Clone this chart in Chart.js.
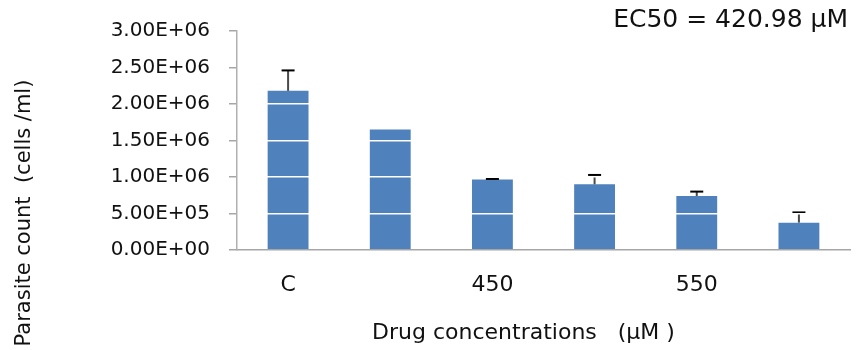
<!DOCTYPE html>
<html>
<head>
<meta charset="utf-8">
<script src="https://cdn.jsdelivr.net/npm/chart.js@4.4.1/dist/chart.umd.min.js"></script>
<style>
  html, body { margin: 0; padding: 0; background: #fff; }
  #wrap { width: 856px; height: 350px; position: relative; }
</style>
</head>
<body>
<div id="wrap"><canvas id="parasiteChart"></canvas></div>
<script>
// --- Data ---
const concLabels = ["C", "", "450", "", "550", ""];
const meanCount  = [2180000, 1650000, 965000, 900000, 740000, 375000];
const errUpper   = [280000, 0, 8000, 128000, 60000, 140000];
const yTicks     = [0, 500000, 1000000, 1500000, 2000000, 2500000, 3000000];

const annotationText = "EC50 = 420.98 \u00b5M";
const xTitle = "Drug concentrations   (\u00b5M )";
const yTitle = "Parasite count  (cells /ml)";

const FONT = "'DejaVu Sans', sans-serif";

// 3.00E+06 style labels
function sci(v) {
  const [m, e] = v.toExponential(2).toUpperCase().split("E");
  const sign = e[0] === "-" ? "-" : "+";
  const digits = e.replace(/[+-]/, "").padStart(2, "0");
  return m + "E" + sign + digits;
}

// --- error bars (upper only) ---
const errorBars = {
  id: "errorBars",
  afterDatasetsDraw(chart) {
    const ctx = chart.ctx;
    const meta = chart.getDatasetMeta(0);
    const y = chart.scales.y;
    ctx.save();
    meta.data.forEach((bar, i) => {
      if (!errUpper[i]) return;
      const top = y.getPixelForValue(meanCount[i] + errUpper[i]);
      const base = y.getPixelForValue(meanCount[i]);
      ctx.strokeStyle = "#4a4a4a";
      ctx.lineWidth = 2;
      ctx.beginPath();
      ctx.moveTo(bar.x, base);
      ctx.lineTo(bar.x, top);
      ctx.stroke();
      ctx.strokeStyle = "#000";
      ctx.beginPath();
      ctx.moveTo(bar.x - 6.5, top);
      ctx.lineTo(bar.x + 6.5, top);
      ctx.stroke();
    });
    ctx.restore();
  }
};

// --- titles and the EC50 note ---
const labelsLayer = {
  id: "labelsLayer",
  afterDraw(chart) {
    const ctx = chart.ctx;
    const a = chart.chartArea;
    ctx.save();
    ctx.fillStyle = "#111";

    ctx.font = "25px " + FONT;
    ctx.textAlign = "right";
    ctx.textBaseline = "alphabetic";
    ctx.fillText(annotationText, chart.width - 8, 27);

    ctx.font = "22px " + FONT;
    ctx.textAlign = "center";
    ctx.textBaseline = "middle";
    ctx.fillText(xTitle, (a.left + a.right) / 2 - 20, 333);

    ctx.font = "21px " + FONT;
    ctx.translate(25, a.bottom - 37);
    ctx.rotate(-Math.PI / 2);
    ctx.fillText(yTitle, 0, 0);
    ctx.restore();
  }
};

new Chart(document.getElementById("parasiteChart"), {
  type: "bar",
  data: {
    labels: concLabels,
    datasets: [{
      data: meanCount,
      backgroundColor: "#4f81bd",
      borderWidth: 0,
      barPercentage: 0.4,
      categoryPercentage: 1.0
    }]
  },
  options: {
    responsive: true,
    maintainAspectRatio: false,
    animation: false,
    layout: { padding: { left: 0, right: 6, top: 23, bottom: 0 } },
    plugins: { legend: { display: false }, tooltip: { enabled: false } },
    scales: {
      x: {
        afterFit: (s) => { s.height = 100; },
        grid: { display: false, drawTicks: false },
        border: { display: true, color: "#a6a6a6", width: 1.5, z: 2 },
        ticks: {
          color: "#111",
          font: { family: FONT, size: 22 },
          padding: 22,
          autoSkip: false,
          maxRotation: 0
        }
      },
      y: {
        min: 0,
        max: 3000000,
        afterFit: (s) => { s.width = 237; },
        afterBuildTicks: (s) => { s.ticks = yTicks.map(v => ({ value: v })); },
        grid: {
          z: 1,
          color: (c) => (c.tick && c.tick.value === 0 ? "rgba(0,0,0,0)" : "#ffffff"),
          lineWidth: 1.5,
          tickColor: "#a6a6a6",
          tickLength: 8
        },
        border: { display: true, color: "#b0b0b0", width: 1.5, z: 2 },
        ticks: {
          color: "#111",
          font: { family: FONT, size: 20 },
          padding: 19,
          callback: (v) => sci(v)
        }
      }
    }
  },
  plugins: [errorBars, labelsLayer]
});
</script>
</body>
</html>
